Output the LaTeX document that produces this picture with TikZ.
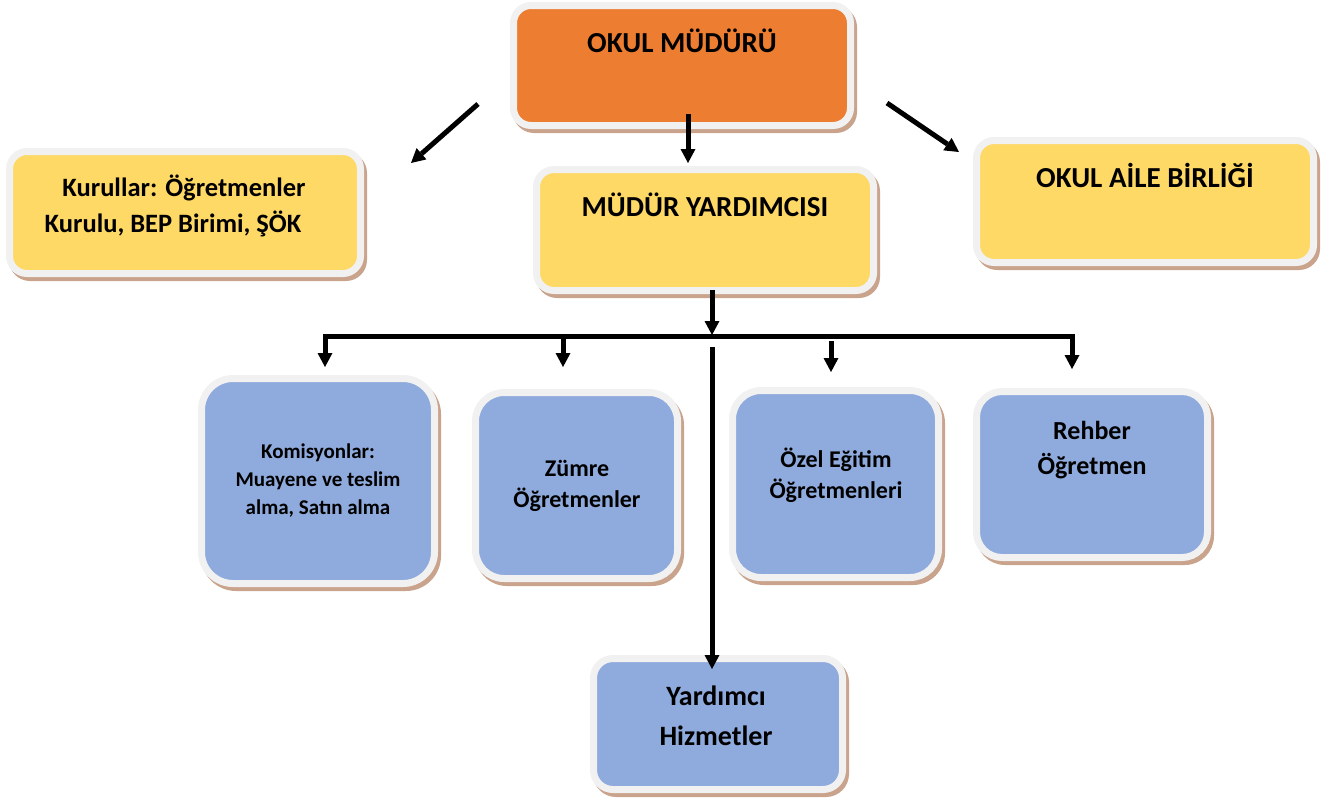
\documentclass[tikz,border=0pt]{standalone}
\usepackage{fontspec}
\setmainfont{Carlito}
\usetikzlibrary{arrows.meta}
\definecolor{orangec}{RGB}{237,125,49}
\definecolor{yellowc}{RGB}{255,217,102}
\definecolor{bluec}{RGB}{143,170,220}
\definecolor{ringc}{RGB}{241,241,241}
\definecolor{shadowc}{RGB}{201,163,140}
\newcommand\fsz[2]{\fontsize{#1}{#2}\selectfont}
% #1 name, #2 x1, #3 y1, #4 x2, #5 y2, #6 colour, #7 outer radius, #8 path radius
\newcommand\obox[8]{%
  \fill[shadowc, rounded corners=#7pt] ({#2+3},{#3+4}) rectangle ({#4+3},{#5+4});
  \node[boxst, fill=#6, rounded corners=#8pt, minimum width={#4-#2-7}, minimum height={#5-#3-7}]
    (#1) at ({(#2+#4)/2},{(#3+#5)/2}) {};
}
\begin{document}
\begin{tikzpicture}[x=1pt,y=-1pt,
  boxst/.style={draw=ringc, line width=7pt, inner sep=0pt},
  txt/.style={inner sep=0pt, align=center, anchor=north},
  tipst/.tip={Triangle[width=15pt,length=14pt,line width=0pt]},
  arr/.style={line width=5pt, -tipst},
  barst/.style={line width=5pt, tipst-tipst, line join=miter}]
\useasboundingbox (0,0) rectangle (1333,801);

% boxes
\obox{mudur}{510}{2}{854}{129}{orangec}{21}{17.5}
\obox{kurul}{6}{148}{364}{277}{yellowc}{21}{17.5}
\obox{yard}{533}{166}{877}{294}{yellowc}{21}{17.5}
\obox{aile}{973}{137}{1317}{266}{yellowc}{21}{17.5}
\obox{komis}{198}{375}{438}{587}{bluec}{35}{31.5}
\obox{zumre}{472}{389}{681}{582}{bluec}{32}{28.5}
\obox{ozel}{729}{387}{942}{581}{bluec}{32}{28.5}
\obox{rehber}{973}{388}{1211}{561}{bluec}{29}{25.5}
\obox{yhiz}{590}{655}{846}{793}{bluec}{23}{19.5}

% texts
\node[txt, font={\bfseries\fsz{29}{35}}] (mudur-t) at (682,27.5) {\strut OKUL MÜDÜRÜ};
\node[txt, font={\bfseries\fsz{29}{35}}] (yard-t) at (705,191.5) {\strut MÜDÜR YARDIMCISI};
\node[txt, font={\bfseries\fsz{29}{35}}] (aile-t) at (1145,162.5) {\strut OKUL AİLE BİRLİĞİ};
\node[txt, font={\bfseries\fsz{26.5}{36}}] (kurul-t) at (184,170.8)
  {\strut Kurullar: Öğretmenler\\Kurulu, BEP Birimi, ŞÖK\rule{22pt}{0pt}\strut};
\node[txt, font={\bfseries\fsz{21}{28}}] (komis-t) at (318,438.4)
  {\strut Komisyonlar:\\Muayene ve teslim\\alma, Satın alma\strut};
\node[txt, font={\bfseries\fsz{24}{31}}] (zumre-t) at (577,454.3)
  {\strut Zümre\\Öğretmenler\strut};
\node[txt, font={\bfseries\fsz{24}{31}}] (ozel-t) at (836,445.3)
  {\strut Özel Eğitim\\Öğretmenleri\strut};
\node[txt, font={\bfseries\fsz{26}{35}}] (rehber-t) at (1092,414.5)
  {\strut Rehber\\Öğretmen\strut};
\node[txt, font={\bfseries\fsz{28}{40}}] (yhiz-t) at (716,677)
  {\strut Yardımcı\\Hizmetler\strut};

% connector end points
\coordinate (lA) at (478,104);  \coordinate (lB) at (411,163);
\coordinate (rA) at (887,103);  \coordinate (rB) at (959,152);
\coordinate (cA) at (688,114);  \coordinate (cB) at (688,163);
\coordinate (dA) at (712,290);  \coordinate (dB) at (712,335);
\coordinate (b1) at (325,367);  \coordinate (bL) at (325,336);
\coordinate (bR) at (1072,336); \coordinate (b4) at (1072,369);
\coordinate (e2A) at (563,339); \coordinate (e2B) at (563,367);
\coordinate (e3A) at (831,341); \coordinate (e3B) at (831,372);
\coordinate (yA) at (712,347);  \coordinate (yB) at (712,669);

% connectors
\draw[arr] (lA) -- (lB);
\draw[arr] (rA) -- (rB);
\draw[arr] (cA) -- (cB);
\draw[arr] (dA) -- (dB);
\draw[barst] (b1) -- (bL) -- (bR) -- (b4);
\draw[arr] (e2A) -- (e2B);
\draw[arr] (e3A) -- (e3B);
\draw[arr] (yA) -- (yB);
\end{tikzpicture}
\end{document}
